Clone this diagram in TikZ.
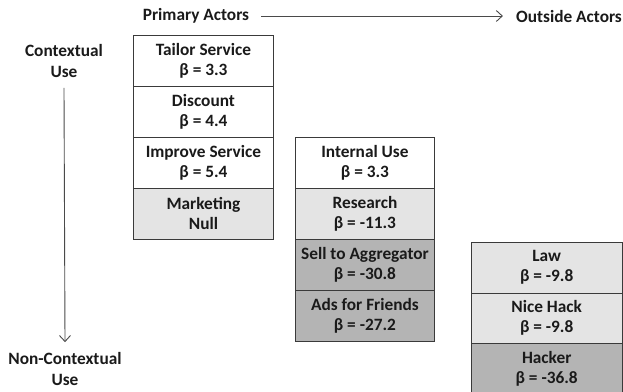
\documentclass[tikz,border=0pt]{standalone}
\usepackage{fontspec}
\setmainfont{Carlito}
\usetikzlibrary{arrows.meta}
\definecolor{bordercol}{HTML}{3A3A3A}
\definecolor{lightfill}{HTML}{E4E4E4}
\definecolor{darkfill}{HTML}{B4B4B4}
\definecolor{txt}{HTML}{1A1A1A}
\definecolor{arrowcol}{HTML}{4A4A4A}
\tikzset{
  lbl/.style={font=\fontsize{17.3}{21}\selectfont\bfseries, text=txt, align=center, inner sep=0pt},
  cell/.style={draw=bordercol, line width=0.9pt, anchor=north west, align=center, inner sep=0pt,
    font=\fontsize{17.3}{20}\selectfont\bfseries, text=txt},
  colA/.style={cell, minimum width=140pt, minimum height=51pt},
  colB/.style={cell, minimum width=139pt, minimum height=51pt},
  colC/.style={cell, minimum width=150.5pt, minimum height=50.5pt},
  plain/.style={fill=white},
  light/.style={fill=lightfill},
  dark/.style={fill=darkfill},
  axis/.style={draw=arrowcol, line width=0.9pt, -{Straight Barb[length=6pt,width=11pt,line width=0.9pt]}}
}
\begin{document}
\begin{tikzpicture}[x=1pt,y=-1pt]
\useasboundingbox (0,0) rectangle (623,391);
% headers
\node[lbl] (pa) at (196,16) {Primary Actors};
\node[lbl] (oa) at (569,16) {Outside Actors};
\node[lbl] (ctx) at (64,61) {Contextual\\Use};
\node[lbl] (nctx) at (65,369) {Non-Contextual\\Use};
\draw[axis] ([xshift=12pt]pa.east) -- ([xshift=-13pt]oa.west);
\draw[axis] ([yshift=-10pt]ctx.south) -- ([yshift=10pt]nctx.north);
% column 1
\node[colA,plain] (tailor) at (133,35) {Tailor Service\\β = 3.3};
\node[colA,plain] (discount) at (133,86) {Discount\\β = 4.4};
\node[colA,plain] (improve) at (133,137) {Improve Service\\β = 5.4};
\node[colA,light] (marketing) at (133,188) {Marketing\\Null};
% column 2
\node[colB,plain] (internal) at (295,136.5) {Internal Use\\β = 3.3};
\node[colB,light] (research) at (295,187.5) {Research\\β = -11.3};
\node[colB,dark] (sell) at (295,238.5) {Sell to Aggregator\\β = -30.8};
\node[colB,dark] (ads) at (295,289.5) {Ads for Friends\\β = -27.2};
% column 3
\node[colC,light] (law) at (471,242) {Law\\β = -9.8};
\node[colC,light] (nicehack) at (471,292.5) {Nice Hack\\β = -9.8};
\node[colC,dark] (hacker) at (471,343) {Hacker\\β = -36.8};
\end{tikzpicture}
\end{document}
